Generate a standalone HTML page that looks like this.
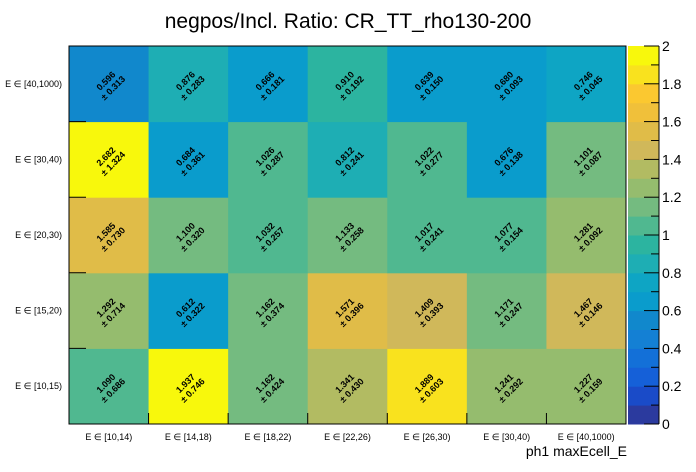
<!DOCTYPE html>
<html><head><meta charset="utf-8"><style>
body{margin:0;background:#fff;}
svg{display:block;font-family:"Liberation Sans",sans-serif;}
</style></head><body>
<svg id="chart" width="696" height="472" xmlns="http://www.w3.org/2000/svg">
<text x="348" y="28" text-anchor="middle" font-size="21">negpos/Incl. Ratio: CR_TT_rho130-200</text>
<text x="627" y="456" text-anchor="end" font-size="14">ph1 maxEcell_E</text>
<g id="cells"></g><g id="axes"></g><g id="pal"></g>
</svg>
<script>
const xCats=["E ∈ [10,14)","E ∈ [14,18)","E ∈ [18,22)","E ∈ [22,26)","E ∈ [26,30)","E ∈ [30,40)","E ∈ [40,1000)"];
const yCats=["E ∈ [10,15)","E ∈ [15,20)","E ∈ [20,30)","E ∈ [30,40)","E ∈ [40,1000)"];
const values=[
[1.090,1.937,1.162,1.341,1.889,1.241,1.227],
[1.292,0.612,1.162,1.571,1.409,1.171,1.467],
[1.585,1.100,1.032,1.133,1.017,1.077,1.281],
[2.682,0.684,1.026,0.812,1.022,0.676,1.101],
[0.596,0.876,0.666,0.910,0.639,0.680,0.746]];
const errors=[
[0.686,0.746,0.424,0.430,0.603,0.292,0.159],
[0.714,0.322,0.374,0.396,0.393,0.247,0.146],
[0.730,0.320,0.257,0.258,0.241,0.154,0.092],
[1.324,0.361,0.287,0.241,0.277,0.138,0.087],
[0.313,0.283,0.181,0.192,0.150,0.093,0.045]];
const palTicks=["0","0.2","0.4","0.6","0.8","1","1.2","1.4","1.6","1.8","2"];
const colors=["#2b3a9e","#1a4bc8","#1560d8","#1370d8","#1480d4","#1188cc","#0a9ccc","#0ea5c4","#1eaeb4","#2cb4a0","#50b890","#74bb80","#95bc6e","#b2bb62","#d0b85a","#e0bc48","#f0c03a","#fbc830","#f9e21e","#f8f80c"];
const L=69,R=626,T=46,B=424,zmin=0,zmax=2;
const cw=(R-L)/xCats.length, rh=(B-T)/yCats.length;
const xPos=i=>L+i*cw, yPos=j=>B-(j+1)*rh;
function col(v){let k=Math.floor((v-zmin)/(zmax-zmin)*colors.length);k=Math.max(0,Math.min(colors.length-1,k));return colors[k];}
const NS="http://www.w3.org/2000/svg";
function mk(t,a,p){const e=document.createElementNS(NS,t);for(const k in a)e.setAttribute(k,a[k]);p.appendChild(e);return e;}
const cells=document.getElementById('cells'),axes=document.getElementById('axes'),pal=document.getElementById('pal');
values.forEach((row,j)=>row.forEach((v,i)=>{
 const r=mk('rect',{x:xPos(i),y:yPos(j),width:cw+0.5,height:rh+0.5,fill:col(v)},cells);
 
 
 const cx=xPos(i)+cw/2, cy=yPos(j)+rh/2;
 const t=mk('text',{x:0,y:0,'font-size':9,'font-weight':'bold','text-anchor':'middle',transform:`translate(${cx},${cy}) rotate(-45)`},cells);
 
 
 const a=mk('tspan',{x:0,dy:-1},t);a.textContent=v.toFixed(3);
 const b=mk('tspan',{x:0,dy:10},t);b.textContent="± "+errors[j][i].toFixed(3);
}));
mk('rect',{x:L,y:T,width:R-L,height:B-T,fill:'none',stroke:'#000','stroke-width':1},axes);
xCats.forEach((c,i)=>{
 mk('line',{x1:xPos(i),x2:xPos(i),y1:B,y2:B-11,stroke:'#000'},axes);
 const t=mk('text',{x:xPos(i)+cw/2,y:440,'font-size':9,'text-anchor':'middle'},axes);
 
 
 t.textContent=c;
});
yCats.forEach((c,j)=>{
 mk('line',{x1:L,x2:L+17,y1:yPos(j)+rh,y2:yPos(j)+rh,stroke:'#000'},axes);
 const t=mk('text',{x:62,y:yPos(j)+rh/2+3,'font-size':9,'text-anchor':'end'},axes);
 
 
 t.textContent=c;
});
const PL=628,PR=659,ph=(B-T)/colors.length;
colors.forEach((c,k)=>{
 const r=mk('rect',{x:PL,y:B-(k+1)*ph,width:PR-PL,height:ph+0.5,fill:c},pal);
 
 
});
mk('line',{x1:PR,x2:PR,y1:T,y2:B,stroke:'#000'},pal);
palTicks.forEach((s,k)=>{
 const y=B-(k/(palTicks.length-1))*(B-T);
 mk('line',{x1:PR-15,x2:PR,y1:y,y2:y,stroke:'#000'},pal);
 if(k<palTicks.length-1) mk('line',{x1:PR-8,x2:PR,y1:y-(B-T)/20,y2:y-(B-T)/20,stroke:'#000'},pal);
 const t=mk('text',{x:PR+3,y:y+5,'font-size':14},pal);
 
 
 t.textContent=s;
});
</script>
</body></html>
